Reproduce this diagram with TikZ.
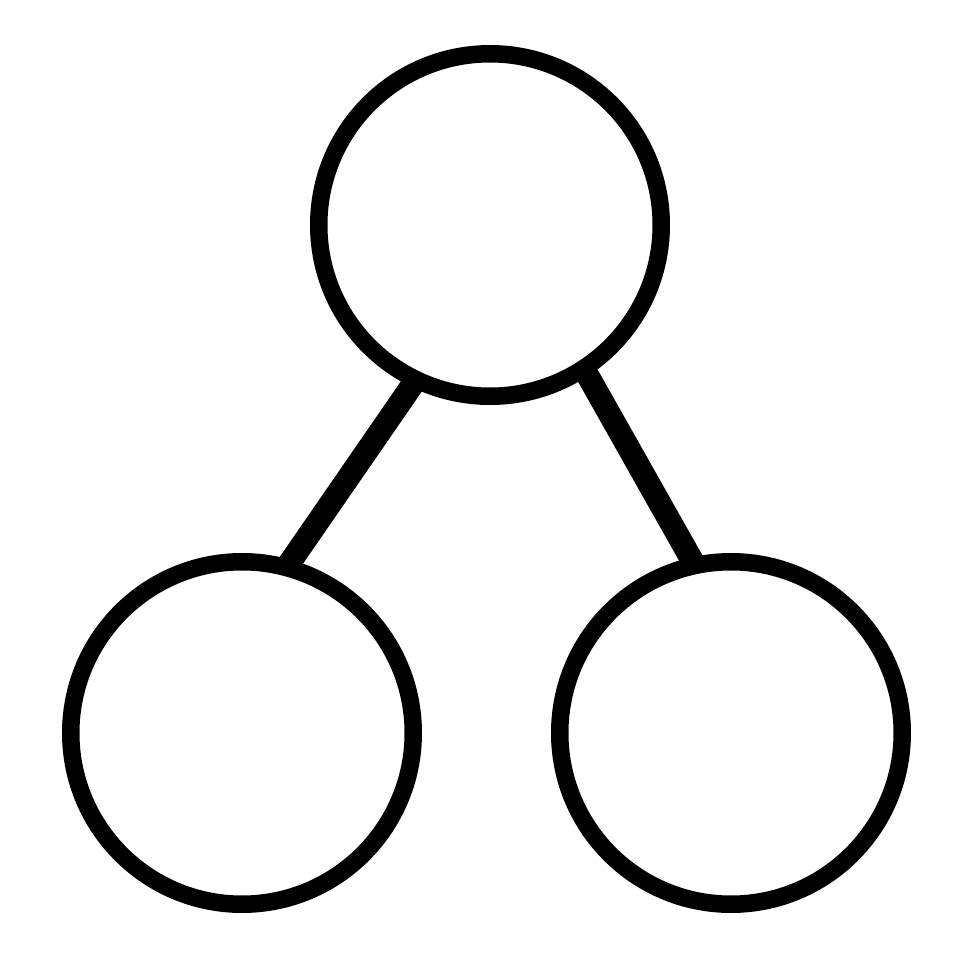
\documentclass[tikz,border=0pt]{standalone}
\usepackage{tikz}

\begin{document}
\begin{tikzpicture}[
    rond/.style={circle, draw=black, fill=white, line width=0.175cm, inner sep=0pt, minimum size=3.425cm},
    lien/.style={line width=0.23cm, shorten <=-2pt, shorten >=-2pt}
]

    % Cadre de l'image
    \useasboundingbox (0,0) rectangle (9.8,9.8);

    % Cercles
    \node[rond] (haut) at (4.90,7.55) {};
    \node[rond] (gauche) at (2.42,2.47) {};
    \node[rond] (droite) at (7.31,2.47) {};

    % Liens entre les cercles
    \draw[lien] (haut.244.6) -- (gauche.74.5);
    \draw[lien] (haut.303.3) -- (droite.103.3);

\end{tikzpicture}
\end{document}
